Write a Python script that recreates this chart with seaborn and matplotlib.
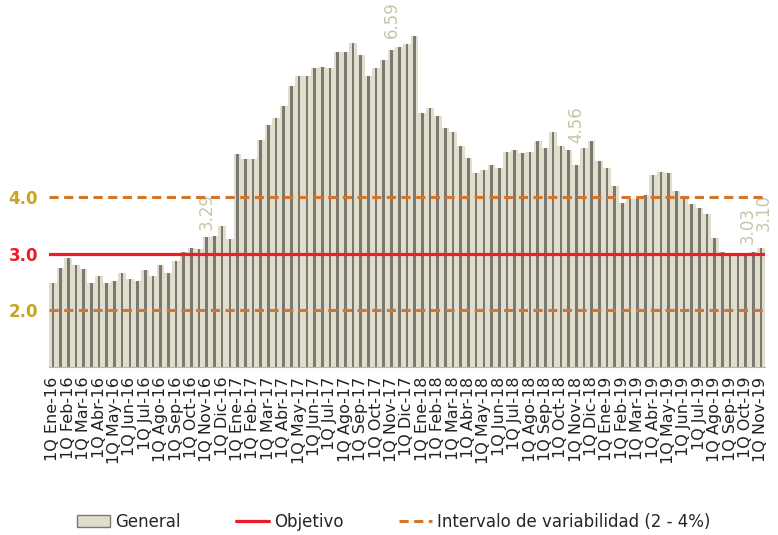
import matplotlib.pyplot as plt
import seaborn as sns
import pandas as pd
import numpy as np
from matplotlib.patches import Patch
from matplotlib.lines import Line2D

# Inflación general anual, por quincena (1Q Ene-16 a 1Q Nov-19)
meses = ['Ene', 'Feb', 'Mar', 'Abr', 'May', 'Jun', 'Jul', 'Ago', 'Sep', 'Oct', 'Nov', 'Dic']
anios = ['16', '17', '18', '19']

inflacion_2016 = [2.48, 2.75, 2.93, 2.79, 2.72, 2.48, 2.61, 2.48, 2.52, 2.66, 2.55, 2.52,
                  2.71, 2.60, 2.79, 2.66, 2.87, 3.02, 3.09, 3.08, 3.29, 3.31, 3.48, 3.25]
inflacion_2017 = [4.76, 4.66, 4.67, 5.01, 5.27, 5.39, 5.61, 5.96, 6.13, 6.13, 6.27, 6.29,
                  6.27, 6.56, 6.56, 6.71, 6.50, 6.13, 6.27, 6.41, 6.59, 6.65, 6.69, 6.83]
inflacion_2018 = [5.48, 5.56, 5.42, 5.21, 5.15, 4.89, 4.69, 4.42, 4.48, 4.57, 4.51, 4.80,
                  4.83, 4.78, 4.80, 4.98, 4.86, 5.14, 4.90, 4.83, 4.56, 4.86, 4.98, 4.63]
inflacion_2019 = [4.51, 4.19, 3.90, 3.96, 3.96, 4.04, 4.39, 4.44, 4.42, 4.10, 3.96, 3.87,
                  3.81, 3.69, 3.28, 3.02, 3.00, 2.99, 3.01, 3.03, 3.10]

objetivo = 3.0
intervalo = [2.0, 4.0]
etiquetas_idx = [20, 44, 68, 91, 92]      # barras con dato rotulado
etiquetas_off = [(0, 5), (0, 9), (0, 16), (-4, 6), (2, 12)]   # desplazamiento del rotulo (pt)

general = inflacion_2016 + inflacion_2017 + inflacion_2018 + inflacion_2019
quincenas = [f'{q}Q {m}-{a}' for a in anios for m in meses for q in ('1', '2')][:len(general)]

df = pd.DataFrame({'Quincena': quincenas, 'General': general})

sns.set_style('white')
plt.rcParams['font.family'] = ['DejaVu Sans']

fig = plt.figure(figsize=(7.78, 5.35), dpi=100)
ax = fig.add_axes([0.063, 0.314, 0.92, 0.636])

# barra clara + franja oscura (efecto de relieve)
sns.barplot(data=df, x='Quincena', y='General', color='#e0ddcd', saturation=1,
            width=1.0, linewidth=0, ax=ax)
sns.barplot(data=df, x='Quincena', y='General', color='#7b796f', saturation=1,
            width=0.34, linewidth=0, ax=ax)

ax.axhline(objetivo, color='#ee1c25', lw=2.3, zorder=5)
for v in intervalo:
    ax.axhline(v, color='#d4762a', lw=2.2, ls=(0, (3, 1.8)), zorder=5)

# rotulos de datos
for i, off in zip(etiquetas_idx, etiquetas_off):
    ax.annotate(f'{general[i]:.2f}', (i, general[i]), xytext=off,
                textcoords='offset points', rotation=90, ha='center', va='bottom',
                color='#c9c5a6', fontsize=12)

ax.set_ylim(1, 7)
ax.set_xlim(-0.5, len(general) - 0.5)

# eje x: etiqueta cada mes (1Q), marcas cada 3 quincenas
ax.set_xticks(range(0, len(general), 2))
ax.set_xticklabels(quincenas[::2], rotation=90, fontsize=11.5, color='#222222')
ax.set_xticks(np.arange(-0.5, len(general), 3), minor=True)
ax.tick_params(axis='x', which='major', length=0, pad=7)
ax.tick_params(axis='x', which='minor', length=5, color='#b5b5b5', width=1)

# eje y: solo 2, 3 y 4
ax.set_yticks([2, 3, 4])
ax.set_yticklabels(['2.0', '3.0', '4.0'], fontsize=12, fontweight='bold')
for lbl, c in zip(ax.get_yticklabels(), ['#c9a51c', '#ee1c25', '#c9a51c']):
    lbl.set_color(c)
ax.tick_params(axis='y', length=0, pad=8)

ax.set_xlabel('')
ax.set_ylabel('')
for s in ['top', 'right', 'left']:
    ax.spines[s].set_visible(False)
ax.spines['bottom'].set_color('#b5b5b5')

handles = [Patch(facecolor='#e0ddcd', edgecolor='#7b796f'),
           Line2D([0], [0], color='#ee1c25', lw=2.3),
           Line2D([0], [0], color='#d4762a', lw=2.2, ls=(0, (3, 1.8)))]
fig.legend(handles, ['General', 'Objetivo', 'Intervalo de variabilidad (2 - 4%)'],
           loc='center', bbox_to_anchor=(0.506, 0.024), ncol=3, frameon=False,
           fontsize=12, columnspacing=3.3, handlelength=2.0, handletextpad=0.3)

fig.savefig('out.png', dpi=100)
